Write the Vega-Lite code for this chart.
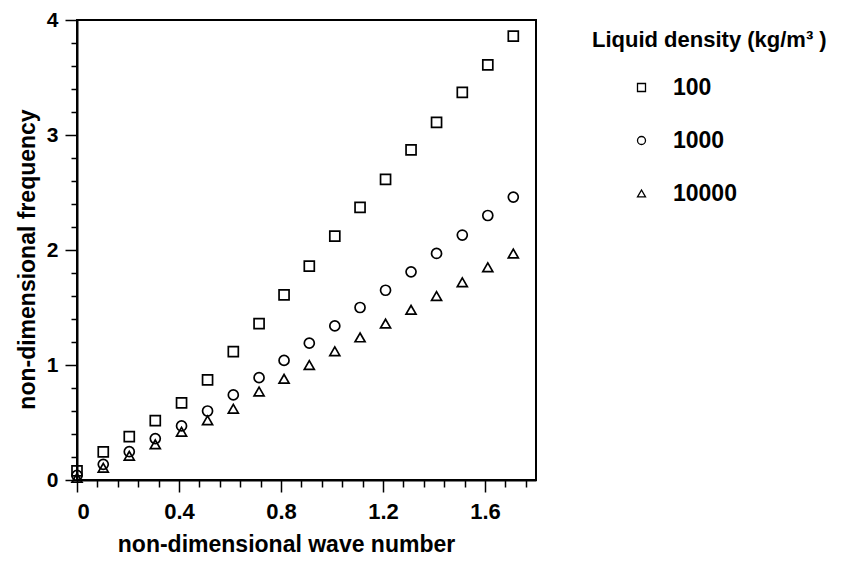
{
  "$schema": "https://vega.github.io/schema/vega-lite/v6.json",
  "width": 459,
  "height": 460,
  "autosize": "none",
  "padding": {"left": 77, "top": 20, "right": 307, "bottom": 85},
  "background": "white",
  "config": {
    "font": "Liberation Sans",
    "view": {"stroke": "black", "strokeWidth": 2},
    "axis": {"grid": false, "domainColor": "black", "domainWidth": 2, "tickColor": "black", "tickWidth": 1.5, "labelColor": "black", "titleColor": "black", "labelFont": "Liberation Sans", "titleFont": "Liberation Sans", "labelFontWeight": "bold", "titleFontWeight": "bold"}
  },
  "data": {
    "values": [
      {"k": 0.0, "f": 0.08, "density": "100"},
      {"k": 0.103, "f": 0.245, "density": "100"},
      {"k": 0.205, "f": 0.377, "density": "100"},
      {"k": 0.307, "f": 0.516, "density": "100"},
      {"k": 0.41, "f": 0.67, "density": "100"},
      {"k": 0.512, "f": 0.87, "density": "100"},
      {"k": 0.613, "f": 1.116, "density": "100"},
      {"k": 0.714, "f": 1.36, "density": "100"},
      {"k": 0.812, "f": 1.61, "density": "100"},
      {"k": 0.911, "f": 1.86, "density": "100"},
      {"k": 1.011, "f": 2.12, "density": "100"},
      {"k": 1.11, "f": 2.37, "density": "100"},
      {"k": 1.21, "f": 2.615, "density": "100"},
      {"k": 1.31, "f": 2.87, "density": "100"},
      {"k": 1.41, "f": 3.11, "density": "100"},
      {"k": 1.511, "f": 3.37, "density": "100"},
      {"k": 1.611, "f": 3.61, "density": "100"},
      {"k": 1.711, "f": 3.86, "density": "100"},
      {"k": 0.0, "f": 0.04, "density": "1000"},
      {"k": 0.103, "f": 0.136, "density": "1000"},
      {"k": 0.205, "f": 0.246, "density": "1000"},
      {"k": 0.307, "f": 0.36, "density": "1000"},
      {"k": 0.41, "f": 0.47, "density": "1000"},
      {"k": 0.512, "f": 0.6, "density": "1000"},
      {"k": 0.613, "f": 0.74, "density": "1000"},
      {"k": 0.714, "f": 0.89, "density": "1000"},
      {"k": 0.812, "f": 1.04, "density": "1000"},
      {"k": 0.911, "f": 1.19, "density": "1000"},
      {"k": 1.011, "f": 1.34, "density": "1000"},
      {"k": 1.11, "f": 1.5, "density": "1000"},
      {"k": 1.21, "f": 1.65, "density": "1000"},
      {"k": 1.31, "f": 1.81, "density": "1000"},
      {"k": 1.41, "f": 1.97, "density": "1000"},
      {"k": 1.511, "f": 2.13, "density": "1000"},
      {"k": 1.611, "f": 2.3, "density": "1000"},
      {"k": 1.711, "f": 2.46, "density": "1000"},
      {"k": 0.0, "f": 0.02, "density": "10000"},
      {"k": 0.103, "f": 0.107, "density": "10000"},
      {"k": 0.205, "f": 0.21, "density": "10000"},
      {"k": 0.307, "f": 0.31, "density": "10000"},
      {"k": 0.41, "f": 0.42, "density": "10000"},
      {"k": 0.512, "f": 0.52, "density": "10000"},
      {"k": 0.613, "f": 0.62, "density": "10000"},
      {"k": 0.714, "f": 0.77, "density": "10000"},
      {"k": 0.812, "f": 0.88, "density": "10000"},
      {"k": 0.911, "f": 1.0, "density": "10000"},
      {"k": 1.011, "f": 1.12, "density": "10000"},
      {"k": 1.11, "f": 1.24, "density": "10000"},
      {"k": 1.21, "f": 1.36, "density": "10000"},
      {"k": 1.31, "f": 1.48, "density": "10000"},
      {"k": 1.41, "f": 1.6, "density": "10000"},
      {"k": 1.511, "f": 1.72, "density": "10000"},
      {"k": 1.611, "f": 1.85, "density": "10000"},
      {"k": 1.711, "f": 1.97, "density": "10000"}
    ]
  },
  "mark": {"type": "point", "filled": false, "color": "black", "strokeWidth": 1.7, "opacity": 1},
  "encoding": {
    "x": {
      "field": "k", "type": "quantitative",
      "scale": {"domain": [0, 1.8], "nice": false, "zero": false},
      "axis": {
        "title": "non-dimensional wave number",
        "titleFontSize": 23,
        "titleX": 209,
        "titlePadding": 11,
        "labelFontSize": 22,
        "labelPadding": 9,
        "labelOverlap": false,
        "values": [0, 0.08, 0.16, 0.24, 0.32, 0.4, 0.48, 0.56, 0.64, 0.72, 0.8, 0.88, 0.96, 1.04, 1.12, 1.2, 1.28, 1.36, 1.44, 1.52, 1.6, 1.68, 1.76],
        "labelExpr": "abs(datum.value/0.4 - round(datum.value/0.4)) < 0.001 ? (datum.value == 0 ? '0' : format(datum.value, '.1f')) : ''",
        "tickSize": {"condition": {"test": "abs(datum.value/0.4 - round(datum.value/0.4)) < 0.001", "value": 12}, "value": 7}
      }
    },
    "y": {
      "field": "f", "type": "quantitative",
      "scale": {"domain": [0, 4], "nice": false},
      "axis": {
        "title": "non-dimensional frequency",
        "titleFontSize": 23,
        "titleY": 239,
        "titlePadding": 7,
        "labelFontSize": 21,
        "labelPadding": 7,
        "labelOverlap": false,
        "values": [0, 0.2, 0.4, 0.6, 0.8, 1, 1.2, 1.4, 1.6, 1.8, 2, 2.2, 2.4, 2.6, 2.8, 3, 3.2, 3.4, 3.6, 3.8, 4],
        "labelExpr": "abs(datum.value - round(datum.value)) < 0.001 ? format(datum.value, 'd') : ''",
        "tickSize": {"condition": {"test": "abs(datum.value - round(datum.value)) < 0.001", "value": 12}, "value": 6}
      }
    },
    "shape": {
      "field": "density", "type": "nominal",
      "scale": {"domain": ["100", "1000", "10000"], "range": ["square", "circle", "triangle-up"]},
      "legend": {
        "title": "Liquid density (kg/m³ )",
        "orient": "none",
        "legendX": 515,
        "legendY": 10,
        "padding": 0,
        "titleFontSize": 22,
        "titleFontWeight": "bold",
        "titleColor": "black",
        "titleFont": "Liberation Sans",
        "titleLimit": 400,
        "titlePadding": 24,
        "labelFontSize": 23,
        "labelFontWeight": "bold",
        "labelColor": "black",
        "labelFont": "Liberation Sans",
        "labelLimit": 300,
        "symbolSize": 64,
        "symbolStrokeWidth": 1.3,
        "symbolStrokeColor": "black",
        "symbolOffset": 38,
        "labelOffset": 20,
        "rowPadding": 29
      }
    },
    "size": {"value": 100}
  }
}
